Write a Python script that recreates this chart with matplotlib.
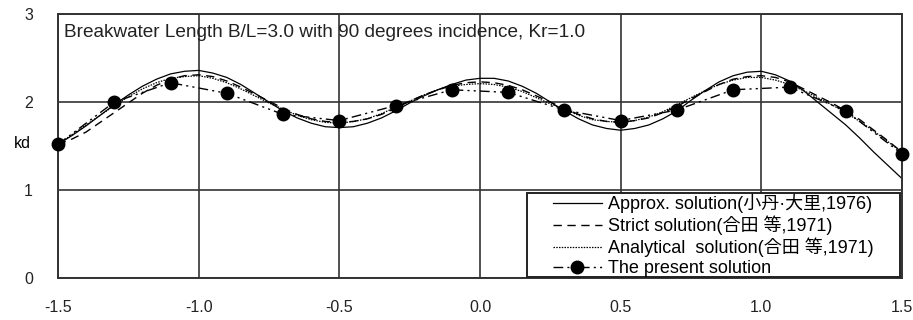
import matplotlib.pyplot as plt
from matplotlib.patches import Rectangle
import numpy as np

plt.rcParams['font.family'] = ['Liberation Sans', 'Noto Sans CJK JP', 'DejaVu Sans']

# x positions of the curves (B/L scaled distance)
x = np.round(np.arange(-1.5, 1.5001, 0.05), 2)

approx = [1.52, 1.62, 1.73, 1.85, 1.97, 2.08, 2.18, 2.26, 2.32, 2.35,
          2.36, 2.33, 2.28, 2.20, 2.10, 2.00, 1.90, 1.82, 1.76, 1.72,
          1.71, 1.72, 1.76, 1.82, 1.90, 1.99, 2.07, 2.14, 2.20, 2.25,
          2.27, 2.27, 2.24, 2.18, 2.10, 2.00, 1.90, 1.81, 1.74, 1.70,
          1.68, 1.70, 1.74, 1.81, 1.90, 2.02, 2.13, 2.23, 2.30, 2.34,
          2.35, 2.31, 2.24, 2.13, 2.00, 1.87, 1.74, 1.59, 1.43, 1.28,
          1.13]

strict = [1.52, 1.58, 1.66, 1.77, 1.88, 1.99, 2.10, 2.19, 2.26, 2.30,
          2.31, 2.29, 2.24, 2.17, 2.09, 2.01, 1.93, 1.86, 1.81, 1.78,
          1.77, 1.78, 1.81, 1.86, 1.93, 2.01, 2.08, 2.14, 2.19, 2.22,
          2.23, 2.22, 2.19, 2.14, 2.07, 2.00, 1.93, 1.86, 1.81, 1.78,
          1.77, 1.79, 1.82, 1.88, 1.95, 2.04, 2.12, 2.20, 2.26, 2.29,
          2.30, 2.28, 2.23, 2.15, 2.07, 1.99, 1.90, 1.80, 1.68, 1.56,
          1.43]

analytical = [1.52, 1.63, 1.74, 1.85, 1.96, 2.06, 2.15, 2.22, 2.27, 2.29,
              2.30, 2.27, 2.22, 2.15, 2.07, 1.99, 1.92, 1.85, 1.80, 1.77,
              1.76, 1.78, 1.81, 1.87, 1.94, 2.01, 2.08, 2.14, 2.18, 2.20,
              2.21, 2.20, 2.17, 2.12, 2.05, 1.98, 1.92, 1.85, 1.80, 1.78,
              1.77, 1.79, 1.83, 1.89, 1.97, 2.05, 2.13, 2.20, 2.25, 2.28,
              2.28, 2.25, 2.20, 2.13, 2.05, 1.97, 1.88, 1.78, 1.67, 1.55,
              1.43]

# present solution (points)
xp = [-1.5, -1.3, -1.1, -0.9, -0.7, -0.5, -0.3, -0.1,
      0.1, 0.3, 0.5, 0.7, 0.9, 1.1, 1.3, 1.5]
present = [1.52, 2.00, 2.22, 2.10, 1.86, 1.79, 1.96, 2.14,
           2.11, 1.91, 1.79, 1.91, 2.14, 2.17, 1.90, 1.41]

labels = ['Approx. solution(小丹·大里,1976)',
          'Strict solution(合田 等,1971)',
          'Analytical  solution(合田 等,1971)',
          'The present solution']

fig = plt.figure(figsize=(9.13, 3.2), dpi=100)
ax = fig.add_axes([0.0635, 0.131, 0.9245, 0.825])

ax.plot(x, approx, color='black', lw=0.9, label=labels[0])
ax.plot(x, strict, color='black', lw=1.0, ls=(0, (6, 4)), label=labels[1])
ax.plot(x, analytical, color='black', lw=0.9, ls=(0, (1.2, 1.0)), label=labels[2])
ax.plot(xp, present, color='black', lw=1.0, ls=(0, (7, 3, 1.5, 3, 1.5, 3)),
        marker='o', ms=9, label=labels[3], clip_on=False, zorder=5)

ax.set_xlim(-1.5, 1.5)
ax.set_ylim(0, 3)
ax.set_xticks(np.arange(-1.5, 1.51, 0.5))
ax.set_xticklabels(['{:.1f}'.format(v) for v in np.arange(-1.5, 1.51, 0.5)])
ax.set_yticks([0, 1, 2, 3])
ax.tick_params(length=0, labelsize=11.5, colors='#222222')
ax.tick_params(axis='x', pad=16)
ax.tick_params(axis='y', pad=18)

ax.grid(color='#333333', lw=1.2)
for s in ax.spines.values():
    s.set_color('#333333')
    s.set_linewidth(1.4)

ax.set_ylabel('kd', rotation=0, fontsize=11.5, labelpad=10, va='center')
ax.yaxis.set_label_coords(-0.042, 0.51)

ax.text(0.007, 0.93, 'Breakwater Length B/L=3.0 with 90 degrees incidence, Kr=1.0',
        transform=ax.transAxes, fontsize=13.7, va='center', ha='left', color='#222222')

# legend box drawn by hand, the legend itself without frame
box = Rectangle((0.5557, 0.004), 0.442, 0.318, transform=ax.transAxes,
                facecolor='white', edgecolor='#222222', lw=1.4, zorder=6)
ax.add_patch(box)
leg = ax.legend(loc='upper left', bbox_to_anchor=(0.5865, 0.318), fontsize=13,
                frameon=False, handlelength=2.7, handletextpad=0.33,
                labelspacing=0.14, borderpad=0, borderaxespad=0)
leg.set_zorder(7)

fig.savefig('out.png', dpi=100)
